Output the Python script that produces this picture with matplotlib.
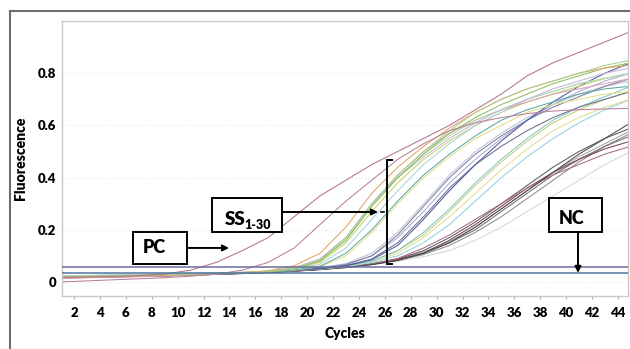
import matplotlib
matplotlib.use("Agg")
import matplotlib.pyplot as plt
from matplotlib.lines import Line2D
from matplotlib.patches import Rectangle

plt.rcParams['font.family'] = ['Lato', 'DejaVu Sans']
W = 'heavy'

# ---------------- data ----------------
cycles = [1, 3, 5, 7, 9, 11, 13, 15, 17, 19, 21, 23, 25, 27, 29, 31, 33, 35, 37, 39, 41, 43, 45]
x_ticks = list(range(2, 45, 2))
y_ticks = [0, 0.2, 0.4, 0.6, 0.8]
y_ticklabels = ['0', '0.2', '0.4', '0.6', '0.8']

threshold = 0.059
nc_level = 0.033

pc1 = [.018, .019, .021, .024, .030, .045, .075, .12, .17, .25, .33, .39, .45, .50, .55, .60, .66, .72, .79, .84, .88, .92, .96]
pc2 = [.000, .004, .008, .012, .016, .022, .030, .045, .075, .13, .22, .31, .39, .47, .53, .58, .61, .63, .645, .655, .66, .663, .665]

a1 = [.020, .022, .024, .026, .028, .030, .032, .035, .040, .052, .085, .17, .30, .41, .50, .58, .65, .70, .74, .77, .80, .83, .85]
a2 = [.018, .020, .022, .024, .026, .028, .031, .034, .039, .050, .080, .16, .29, .40, .49, .57, .63, .68, .72, .76, .79, .82, .84]
a3 = [.022, .024, .025, .027, .029, .031, .033, .036, .041, .050, .075, .15, .27, .38, .47, .54, .60, .65, .69, .72, .75, .78, .80]
a4 = [.016, .018, .020, .022, .025, .028, .031, .035, .043, .062, .11, .21, .34, .44, .52, .59, .65, .70, .74, .77, .80, .82, .83]
a5 = [.020, .022, .024, .026, .028, .030, .032, .035, .039, .046, .060, .11, .20, .31, .41, .49, .56, .62, .66, .69, .72, .74, .75]
a6 = [.024, .025, .027, .028, .030, .032, .034, .037, .041, .049, .068, .13, .24, .35, .45, .53, .60, .65, .70, .73, .76, .78, .80]
a7 = [.014, .016, .018, .020, .023, .026, .030, .034, .040, .054, .088, .17, .30, .41, .50, .57, .62, .66, .69, .72, .74, .76, .78]
a8 = [.020, .022, .023, .025, .027, .029, .032, .035, .039, .045, .058, .10, .19, .30, .40, .48, .55, .60, .65, .68, .70, .72, .73]
a9 = [.022, .023, .025, .026, .028, .030, .033, .036, .041, .053, .083, .16, .29, .40, .49, .56, .62, .66, .70, .73, .76, .78, .80]
a10 = [.018, .020, .022, .024, .026, .029, .032, .035, .041, .054, .086, .17, .30, .40, .48, .55, .61, .66, .70, .74, .77, .80, .82]

b1 = [.015, .017, .019, .021, .023, .026, .029, .033, .038, .045, .052, .062, .085, .14, .24, .35, .45, .54, .62, .69, .75, .80, .84]
b2 = [.020, .022, .024, .026, .028, .030, .033, .036, .040, .046, .054, .068, .10, .17, .27, .38, .47, .55, .62, .68, .73, .77, .80]
b3 = [.018, .020, .022, .024, .026, .028, .031, .034, .038, .044, .052, .066, .10, .18, .29, .40, .49, .56, .62, .67, .71, .75, .78]
b4 = [.022, .024, .026, .028, .030, .032, .034, .037, .041, .047, .055, .070, .11, .19, .30, .41, .50, .57, .63, .68, .72, .75, .77]
b5 = [.020, .022, .024, .026, .028, .030, .032, .035, .039, .044, .050, .060, .078, .11, .17, .25, .34, .43, .51, .58, .63, .67, .70]
b6 = [.019, .021, .023, .025, .027, .029, .031, .034, .038, .043, .049, .058, .074, .10, .15, .22, .31, .40, .48, .55, .61, .66, .70]
b7 = [.021, .023, .025, .027, .029, .031, .033, .036, .040, .045, .051, .061, .080, .12, .18, .27, .37, .46, .54, .61, .66, .70, .73]
b8 = [.017, .019, .021, .023, .025, .027, .030, .033, .037, .043, .050, .062, .088, .15, .25, .36, .45, .52, .58, .63, .67, .70, .73]
b9 = [.020, .022, .024, .026, .028, .030, .032, .035, .039, .044, .050, .060, .080, .12, .19, .28, .38, .47, .55, .62, .67, .71, .75]

c1 = [.016, .018, .020, .022, .024, .026, .029, .032, .036, .041, .047, .055, .066, .082, .11, .15, .21, .28, .35, .42, .49, .55, .61]
c2 = [.018, .020, .022, .024, .026, .028, .031, .034, .038, .043, .049, .057, .068, .085, .11, .16, .22, .29, .36, .42, .47, .51, .54]
c3 = [.020, .022, .024, .026, .028, .030, .032, .035, .039, .044, .050, .058, .068, .083, .105, .14, .19, .25, .32, .39, .46, .52, .57]
c4 = [.022, .024, .026, .028, .030, .032, .034, .037, .041, .046, .052, .059, .068, .080, .097, .12, .16, .21, .27, .33, .39, .45, .50]
c5 = [.017, .019, .021, .023, .025, .027, .030, .033, .037, .042, .048, .056, .067, .084, .11, .15, .20, .27, .34, .41, .47, .52, .56]
c6 = [.015, .017, .019, .021, .023, .026, .029, .032, .036, .041, .047, .055, .068, .09, .13, .18, .24, .30, .36, .41, .45, .49, .52]
c7 = [.019, .021, .023, .025, .027, .029, .032, .035, .039, .044, .050, .058, .070, .088, .115, .155, .21, .28, .35, .42, .48, .53, .58]
c8 = [.018, .020, .022, .024, .026, .028, .031, .034, .038, .043, .049, .057, .069, .088, .12, .17, .23, .30, .37, .44, .50, .55, .59]

series = [
    (c4, '#d6d6d6'), (c7, '#a3a3a3'), (c3, '#8c8c8c'), (c5, '#6f6f6f'), (c8, '#5b5b6b'),
    (c2, '#7d3f55'), (c6, '#a86a85'), (c1, '#4a4a4a'),
    (b6, '#92d0e0'), (b5, '#dede98'), (b7, '#c8cc7a'), (b9, '#7ec8c0'), (b4, '#b8c4d8'),
    (b2, '#a9a9d9'), (b3, '#7e7e9e'), (b8, '#6c6c8c'), (b1, '#4b5a9e'),
    (a8, '#e6dc85'), (a5, '#5aa9a6'), (a3, '#cfcf6a'), (a6, '#a6d4dc'), (a7, '#d9a3b5'),
    (a9, '#b9dca0'), (a10, '#c4b5dc'), (a2, '#8dc063'), (a4, '#e0a468'), (a1, '#a8d08d'),
    (pc2, '#b8809a'), (pc1, '#b5728f'),
]

# ---------------- figure ----------------
fig = plt.figure(figsize=(6.3, 3.49), dpi=100)
ax = fig.add_axes([62 / 630, 1 - 296 / 349, 566 / 630, 275 / 349])

for vals, col in series:
    ax.plot(cycles, vals, color=col, lw=0.75, solid_capstyle='round', zorder=2)

ax.axhline(threshold, color='#6c6c9c', lw=1.1, zorder=3)
ax.axhline(nc_level, color='#4f74a0', lw=1.1, zorder=3)

ax.set_xlim(1.07, 44.78)
ax.set_ylim(-0.054, 1.0)
ax.set_xticks(x_ticks)
ax.set_xticklabels([str(t) for t in x_ticks], fontsize=9.5, fontweight=W)
ax.set_yticks(y_ticks)
ax.set_yticklabels(y_ticklabels, fontsize=9.5, fontweight=W)
ax.tick_params(axis='x', length=2, width=0.8, color='#b0b0b0', pad=6)
ax.tick_params(axis='y', length=0, pad=4)
for s in ax.spines.values():
    s.set_color('#c8c8c8')
    s.set_linewidth(1.0)
ax.grid(axis='y', color='#e6e6e6', linestyle=(0, (1, 2)), lw=0.8, zorder=0)
ax.set_axisbelow(True)

ax.set_xlabel('Cycles', fontsize=10, fontweight=W, labelpad=6)
ax.set_ylabel('Fluorescence', fontsize=10, fontweight=W, labelpad=8)

# ---------------- annotations ----------------
def px2data(px, py):
    return ((px - 48.1) / 12.95, (282 - py) / 261.25)

def box(px0, py0, px1, py1):
    x0, y1 = px2data(px0, py0)
    x1, y0 = px2data(px1, py1)
    ax.add_patch(Rectangle((x0, y0), x1 - x0, y1 - y0, facecolor='white',
                           edgecolor='black', lw=1.4, zorder=6))

def arrow(p0, p1):
    ax.annotate('', xy=px2data(*p1), xytext=px2data(*p0),
                arrowprops=dict(arrowstyle='-|>', color='black', lw=1.4,
                                mutation_scale=9, shrinkA=0, shrinkB=0), zorder=7)

# PC
box(133, 232, 187, 264)
ax.text(*px2data(154, 248), 'PC', fontsize=13, fontweight=W, ha='center', va='center', zorder=8)
arrow((187, 248), (229, 248))

# SS 1-30
box(212, 198, 282, 232)
ax.text(*px2data(246, 225), 'SS', fontsize=13.5, fontweight=W, ha='right', va='baseline', zorder=8)
ax.text(*px2data(244.5, 229), '1-30', fontsize=9, fontweight=W, ha='left', va='baseline', zorder=8)
arrow((282, 212), (378, 212))
bx = [px2data(392, 160), px2data(387, 160), px2data(387, 264), px2data(392, 264)]
ax.plot([p[0] for p in bx], [p[1] for p in bx], color='black', lw=1.4, zorder=7, solid_joinstyle='miter')
md = [px2data(381, 212), px2data(384, 212)]
ax.plot([p[0] for p in md], [p[1] for p in md], color='black', lw=1.2, zorder=7)

# NC
box(549, 198, 602, 232)
ax.text(*px2data(572, 219), 'NC', fontsize=13, fontweight=W, ha='center', va='center', zorder=8)
arrow((578, 232), (578, 273))

# outer frame (top and left)
fig.add_artist(Line2D([10 / 630, 1], [1 - 11 / 349, 1 - 11 / 349], color='#6e6e6e', lw=1.5))
fig.add_artist(Line2D([10 / 630, 10 / 630], [0, 1 - 11 / 349], color='#6e6e6e', lw=1.5))

fig.savefig('out.png', dpi=100)
